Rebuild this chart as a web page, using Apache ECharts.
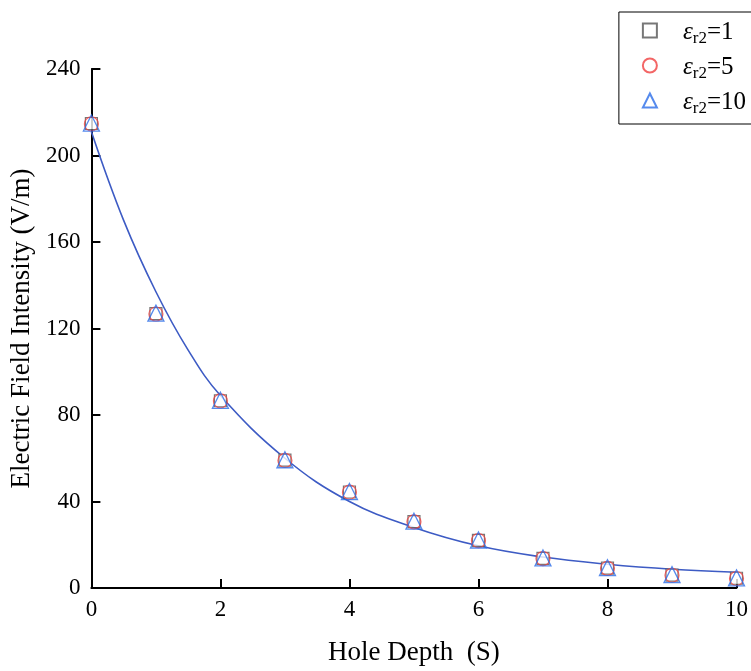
<!DOCTYPE html>
<html><head><meta charset="utf-8">
<script src="https://cdn.jsdelivr.net/npm/echarts@6/dist/echarts.min.js"></script>
<style>html,body{margin:0;padding:0;background:#fff;overflow:hidden}#c{width:751px;height:671px}</style>
</head><body><div id="c"></div>
<script>
const depth = [0,1,2,3,4,5,6,7,8,9,10];
const er1 = [214.8,126.9,86.6,59.1,44.4,30.7,22.0,13.7,9.2,6.0,4.5];
const er5 = [214.6,126.7,86.5,59.0,44.3,30.6,21.9,13.6,9.1,5.9,4.4];
const er10 = [215.0,127.1,86.8,59.3,44.6,30.9,22.2,13.9,9.4,6.2,4.7];
const fitX = [0,0.5,1,1.5,2,3,4,5,6,7,8,9,10];
const fitY = [211,170,137,110,89,60,40,28,19.5,14.3,11,8.7,7.3];
const yTicks = [0,40,80,120,160,200,240];
const xTicks = [0,2,4,6,8,10];
const legendNames = ['εr2=1','εr2=5','εr2=10'];

const font = '"Liberation Serif","Times New Roman",serif';
const chart = echarts.init(document.getElementById('c'));
const pair = (xs, ys) => xs.map((x,i)=>[x, ys[i]]);
const rich = {
  e:{fontFamily:font,fontSize:25,fontStyle:'italic',color:'#000'},
  s:{fontFamily:font,fontSize:17,color:'#000',padding:[12,0,0,0]},
  n:{fontFamily:font,fontSize:25,color:'#000'}
};
chart.setOption({
  animation:false,
  backgroundColor:'#fff',
  grid:{left:90,right:10,top:69,bottom:78,containLabel:false},
  legend:{
    right:-25, top:12, orient:'vertical', itemGap:8,
    borderColor:'#000', borderWidth:1, padding:[8,30,7,23],
    itemWidth:14, itemHeight:14,
    data:legendNames.map(n=>({name:n})),
    formatter:function(name){
      const m = name.match(/^ε(r2)=(\d+)$/);
      return '{e|ε}{s|' + m[1] + '}{n|=' + m[2] + '}';
    },
    textStyle:{rich:rich, padding:[0,0,0,21], height:25}
  },
  xAxis:{
    type:'value', min:0, max:10, interval:2,
    name:'Hole Depth  (S)', nameLocation:'middle', nameGap:51,
    nameTextStyle:{fontFamily:font,fontSize:27,color:'#000'},
    axisLine:{show:true,lineStyle:{color:'#000',width:2}},
    axisTick:{show:true,inside:true,length:9,lineStyle:{color:'#000',width:2}},
    axisLabel:{fontFamily:font,fontSize:23,color:'#000',margin:10,
      formatter:v=>xTicks.includes(v)?String(v):''},
    splitLine:{show:false}
  },
  yAxis:{
    type:'value', min:0, max:240, interval:40,
    name:'Electric Field Intensity (V/m)', nameLocation:'middle', nameGap:46,
    nameTextStyle:{fontFamily:font,fontSize:27,color:'#000'},
    axisLine:{show:true,lineStyle:{color:'#000',width:2}},
    axisTick:{show:true,inside:true,length:9,lineStyle:{color:'#000',width:2}},
    axisLabel:{fontFamily:font,fontSize:23,color:'#000',margin:11,
      formatter:v=>yTicks.includes(v)?String(v):''},
    splitLine:{show:false}
  },
  series:[
    {type:'line', name:'fit', data:pair(fitX,fitY), smooth:0.4, showSymbol:false,
      lineStyle:{color:'#3d5bc4',width:1.6}, z:3},
    {type:'scatter', name:legendNames[0], data:pair(depth,er1), symbol:'rect', symbolSize:12,
      itemStyle:{color:'#fff',borderColor:'#555',borderWidth:1.2}, z:4},
    {type:'scatter', name:legendNames[1], data:pair(depth,er5), symbol:'circle', symbolSize:14,
      itemStyle:{color:'rgba(255,255,255,0)',borderColor:'#f04040',borderWidth:1.2}, z:5},
    {type:'scatter', name:legendNames[2], data:pair(depth,er10), symbol:'triangle', symbolSize:16,
      itemStyle:{color:'rgba(255,255,255,0)',borderColor:'#2a6de8',borderWidth:1.3}, z:6}
  ]
});
</script></body></html>
